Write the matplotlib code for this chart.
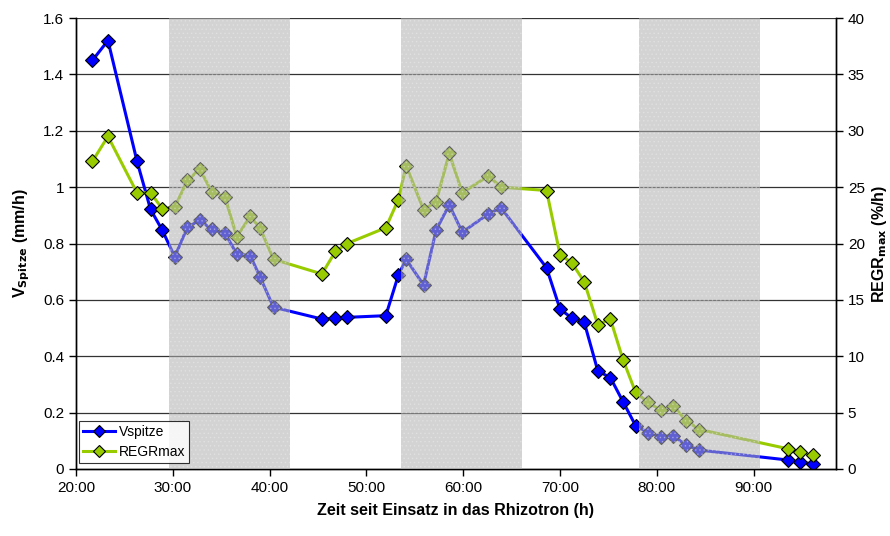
import matplotlib.pyplot as plt
import matplotlib.ticker as mticker
import numpy as np

plt.rcParams['font.family'] = ['Liberation Sans', 'DejaVu Sans']
plt.rcParams['hatch.linewidth'] = 0.6

# hours since insertion into the rhizotron
hours = [21.7, 23.3, 26.3, 27.7, 28.9, 30.2, 31.5, 32.8, 34.0, 35.4, 36.6, 38.0,
         39.0, 40.4, 45.4, 46.8, 48.0, 52.0, 53.3, 54.1, 55.9, 57.2, 58.55, 59.9,
         62.6, 63.9, 68.6, 70.0, 71.2, 72.5, 73.9, 75.2, 76.5, 77.8, 79.1, 80.4,
         81.7, 83.0, 84.4, 93.5, 94.8, 96.1]
vspitze = [1.450, 1.520, 1.092, 0.921, 0.848, 0.753, 0.857, 0.883, 0.850, 0.836,
           0.763, 0.757, 0.682, 0.574, 0.532, 0.535, 0.538, 0.544, 0.688, 0.744,
           0.653, 0.848, 0.937, 0.840, 0.905, 0.927, 0.714, 0.567, 0.536, 0.520,
           0.348, 0.324, 0.239, 0.154, 0.129, 0.115, 0.118, 0.085, 0.067, 0.032,
           0.024, 0.018]
regrmax = [27.3, 29.5, 24.5, 24.5, 23.1, 23.2, 25.6, 26.6, 24.6, 24.1, 20.6, 22.4,
           21.4, 18.6, 17.3, 19.3, 20.0, 21.4, 23.9, 26.9, 23.0, 23.7, 28.0, 24.5,
           26.0, 25.0, 24.7, 19.0, 18.3, 16.6, 12.8, 13.3, 9.7, 6.8, 5.9, 5.2,
           5.6, 4.3, 3.5, 1.8, 1.5, 1.2]
# dark periods (h)
nights = [(29.6, 42.1), (53.6, 66.1), (78.2, 90.7)]
xticks = [20, 30, 40, 50, 60, 70, 80, 90]

fig = plt.figure(figsize=(8.9, 5.36), dpi=100)
ax1 = fig.add_axes([0.0854, 0.125, 0.8539, 0.8414])
ax2 = ax1.twinx()

ax1.set_xlim(20, 98.5)
ax1.set_ylim(0, 1.6)
ax2.set_ylim(0, 40)
ax1.set_yticks(np.arange(0, 1.61, 0.2))
ax2.set_yticks(range(0, 41, 5))
ax1.yaxis.set_major_formatter(mticker.FuncFormatter(lambda v, p: f'{v:g}'))
ax1.set_xticks(xticks)
ax1.set_xticklabels([f'{h}:00' for h in xticks])

for y in np.arange(0.2, 1.61, 0.2):
    ax1.axhline(y, color='#333333', lw=0.9, zorder=1)

l1, = ax1.plot(hours, vspitze, color='#0000ff', lw=2.2, marker='D', ms=7.5,
               mfc='#0000ff', mec='black', mew=0.8, zorder=3, label='Vspitze')
l2, = ax2.plot(hours, regrmax, color='#99cc00', lw=2.2, marker='D', ms=7.5,
               mfc='#99cc00', mec='black', mew=0.8, zorder=3, label='REGRmax')

# shaded night bands drawn on top (semi transparent, speckled), like the original
for a, b in nights:
    ax2.axvspan(a, b, facecolor='#b0b0b0', alpha=0.55, lw=0, zorder=5)
    ax2.axvspan(a, b, facecolor='none', edgecolor='#f0f0f0', hatch='....',
                alpha=0.35, lw=0, zorder=5)

for ax in (ax1, ax2):
    ax.spines['top'].set_visible(False)
    for s in ('left', 'right', 'bottom'):
        ax.spines[s].set_linewidth(1.0)
    ax.tick_params(labelsize=11, direction='out', length=5, width=1)
ax1.patch.set_visible(False)
ax2.set_zorder(ax1.get_zorder() + 1)

ax1.set_ylabel(r'V$_{\mathbf{Spitze}}$ (mm/h)', fontsize=11.5, fontweight='bold', labelpad=8)
ax2.set_ylabel(r'REGR$_{\mathbf{max}}$ (%/h)', fontsize=11.5, fontweight='bold', labelpad=4)
ax1.set_xlabel('Zeit seit Einsatz in das Rhizotron (h)', fontsize=11.5, fontweight='bold', labelpad=6)

leg = ax2.legend(handles=[l1, l2], loc='lower left', bbox_to_anchor=(-0.004, 0.0),
                 fontsize=10, frameon=True, fancybox=False, borderpad=0.3,
                 handlelength=2.3, handletextpad=0.3, labelspacing=0.45,
                 borderaxespad=0.4, markerscale=0.8)
leg.get_frame().set_edgecolor('black')
leg.get_frame().set_linewidth(0.8)
leg.set_zorder(10)

fig.savefig('out.png', dpi=100)
